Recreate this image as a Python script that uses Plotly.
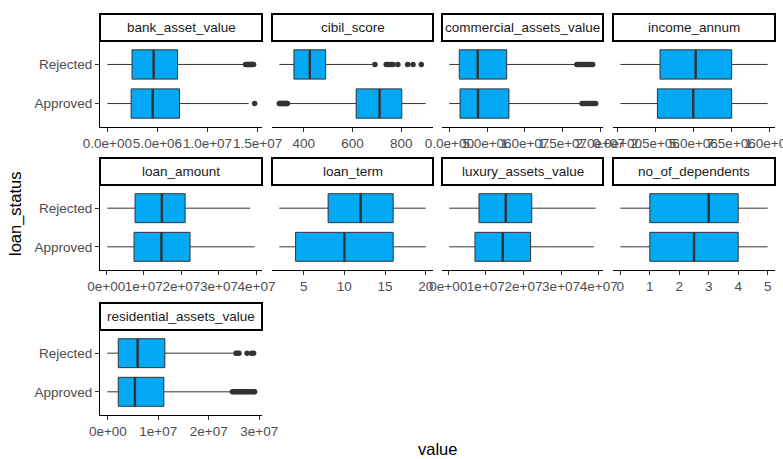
import plotly.graph_objects as go

# ---------------- data ----------------
variables = ["bank_asset_value", "cibil_score", "commercial_assets_value", "income_annum",
             "loan_amount", "loan_term", "luxury_assets_value", "no_of_dependents",
             "residential_assets_value"]
statuses = ["Approved", "Rejected"]

app_lower = [0, 336, 0, 0.2e6, 0.3e6, 2, 0.3e6, 0, -0.1e6]
app_q1 = [2.37e6, 615, 1.42e6, 2.64e6, 7.4e6, 4, 7.12e6, 1, 2.06e6]
app_median = [4.52e6, 711, 3.8e6, 5.0e6, 14.7e6, 10, 14.5e6, 2.5, 5.37e6]
app_q3 = [7.2e6, 802, 7.9e6, 7.53e6, 22.3e6, 16, 21.9e6, 4, 11.1e6]
app_upper = [14.1e6, 900, 17.4e6, 9.9e6, 39.5e6, 20, 38.7e6, 5, 24.4e6]

rej_lower = [0, 300, 0, 0.2e6, 0.3e6, 2, 0.3e6, 0, -0.1e6]
rej_q1 = [2.46e6, 360, 1.32e6, 2.81e6, 7.67e6, 8, 8.18e6, 1, 2.06e6]
rej_median = [4.62e6, 425, 3.76e6, 5.16e6, 14.8e6, 12, 15.3e6, 3, 5.9e6]
rej_q3 = [7.0e6, 490, 7.6e6, 7.53e6, 21.0e6, 16, 22.2e6, 4, 11.3e6]
rej_upper = [13.6e6, 680, 16.7e6, 9.9e6, 38.3e6, 20, 39.2e6, 5, 24.9e6]

app_outliers = [
    [14.7e6],
    [300, 303, 306, 309, 312, 315, 318, 321, 324, 327, 330, 333],
    [17.6e6, 17.8e6, 18.0e6, 18.2e6, 18.4e6, 18.6e6, 18.8e6, 19.0e6, 19.2e6, 19.4e6],
    [], [], [], [], [],
    [24.7e6, 25.0e6, 25.3e6, 25.6e6, 25.9e6, 26.2e6, 26.5e6, 26.8e6, 27.1e6, 27.4e6,
     27.7e6, 28.0e6, 28.3e6, 28.6e6, 28.9e6, 29.1e6],
]
rej_outliers = [
    [13.8e6, 13.9e6, 14.0e6, 14.1e6, 14.2e6, 14.3e6, 14.4e6, 14.5e6, 14.6e6],
    [692, 738, 748, 757, 766, 786, 826, 848, 882],
    [16.9e6, 17.1e6, 17.3e6, 17.5e6, 17.7e6, 17.9e6, 18.1e6, 18.3e6, 18.5e6, 18.7e6, 19.0e6],
    [], [], [], [], [],
    [25.4e6, 25.7e6, 26.0e6, 27.6e6, 28.5e6, 28.9e6],
]

tick_values = [
    [0, 5e6, 1e7, 1.5e7],
    [400, 600, 800],
    [0, 5e6, 1e7, 1.5e7, 2e7],
    [0, 2.5e6, 5e6, 7.5e6, 1e7],
    [0, 1e7, 2e7, 3e7, 4e7],
    [5, 10, 15, 20],
    [0, 1e7, 2e7, 3e7, 4e7],
    [0, 1, 2, 3, 4, 5],
    [0, 1e7, 2e7, 3e7],
]
tick_labels = [
    ["0.0e+00", "5.0e+06", "1.0e+07", "1.5e+07"],
    ["400", "600", "800"],
    ["0.0e+00", "5.0e+06", "1.0e+07", "1.5e+07", "2.0e+07"],
    ["0.0e+00", "2.5e+06", "5.0e+06", "7.5e+06", "1.0e+07"],
    ["0e+00", "1e+07", "2e+07", "3e+07", "4e+07"],
    ["5", "10", "15", "20"],
    ["0e+00", "1e+07", "2e+07", "3e+07", "4e+07"],
    ["0", "1", "2", "3", "4", "5"],
    ["0e+00", "1e+07", "2e+07", "3e+07"],
]

# ---------------- layout / style ----------------
W, H = 783, 459
FONT = "Liberation Sans, Arial, sans-serif"
BOX_FILL = "#03A9F4"
DARK = "#333333"
TICK_TXT = "#4D4D4D"
col_px = [(100, 262), (272, 433), (442, 603), (613, 775)]
row_px = [(41, 127), (185, 270), (330, 415)]
STRIP_H = 27


def px_x(p):
    return p / W


def px_y(p):
    return 1 - p / H


fig = go.Figure()
shapes = []
annotations = []
layout = {}

for i, var in enumerate(variables):
    n = i + 1
    r, c = divmod(i, 4)
    xa = "x" if n == 1 else f"x{n}"
    ya = "y" if n == 1 else f"y{n}"

    fig.add_trace(go.Box(
        y=statuses,
        q1=[app_q1[i], rej_q1[i]],
        median=[app_median[i], rej_median[i]],
        q3=[app_q3[i], rej_q3[i]],
        lowerfence=[app_lower[i], rej_lower[i]],
        upperfence=[app_upper[i], rej_upper[i]],
        orientation="h", fillcolor=BOX_FILL,
        line=dict(color=DARK, width=1), whiskerwidth=0, width=0.75,
        boxpoints=False, showlegend=False, hoverinfo="skip",
        xaxis=xa, yaxis=ya,
    ))
    # thicker median line (line-ns marker extends 1.4 * size/2 each side)
    fig.add_trace(go.Scatter(
        x=[app_median[i], rej_median[i]], y=statuses, mode="markers",
        marker=dict(symbol="line-ns", size=20.5, line=dict(width=2.4, color=DARK)),
        showlegend=False, hoverinfo="skip", xaxis=xa, yaxis=ya,
    ))
    # outliers
    out_x = app_outliers[i] + rej_outliers[i]
    out_y = ["Approved"] * len(app_outliers[i]) + ["Rejected"] * len(rej_outliers[i])
    if out_x:
        fig.add_trace(go.Scatter(
            x=out_x, y=out_y, mode="markers",
            marker=dict(size=5.5, color=DARK),
            showlegend=False, hoverinfo="skip", xaxis=xa, yaxis=ya,
        ))

    all_vals = [app_lower[i], rej_lower[i], app_upper[i], rej_upper[i]] + out_x
    lo, hi = min(all_vals), max(all_vals)
    pad = 0.05 * (hi - lo)

    x0, x1 = col_px[c]
    y0, y1 = row_px[r]
    layout["xaxis" if n == 1 else f"xaxis{n}"] = dict(
        domain=[px_x(x0), px_x(x1)], anchor=ya, range=[lo - pad, hi + pad],
        tickmode="array", tickvals=tick_values[i], ticktext=tick_labels[i],
        tickangle=0, automargin=False, ticklabeloverflow="allow",
        ticks="outside", ticklen=4, tickwidth=1, tickcolor=DARK,
        tickfont=dict(size=13.5, color=TICK_TXT, family=FONT),
        showline=True, linecolor="black", linewidth=1.1,
        showgrid=False, zeroline=False,
    )
    ycfg = dict(
        domain=[px_y(y1), px_y(y0)], anchor=xa, type="category",
        categoryorder="array", categoryarray=statuses, range=[-0.6, 1.6],
        showgrid=False, zeroline=False, automargin=False,
    )
    if c == 0:
        ycfg.update(showline=True, linecolor="black", linewidth=1.1,
                    ticks="outside", ticklen=4, tickwidth=1, tickcolor=DARK,
                    showticklabels=True,
                    tickfont=dict(size=13.5, color=TICK_TXT, family=FONT))
    else:
        ycfg.update(showline=False, ticks="", showticklabels=False)
    layout["yaxis" if n == 1 else f"yaxis{n}"] = ycfg

    # strip
    shapes.append(dict(type="rect", xref="paper", yref="paper",
                       x0=px_x(x0), x1=px_x(x1), y0=px_y(y0), y1=px_y(y0 - STRIP_H),
                       line=dict(color="black", width=2), fillcolor="white"))
    annotations.append(dict(xref="paper", yref="paper",
                            x=px_x((x0 + x1) / 2), y=px_y(y0 - STRIP_H / 2),
                            text=var, showarrow=False, xanchor="center", yanchor="middle",
                            font=dict(size=13.5, color="#1A1A1A", family=FONT)))

annotations.append(dict(xref="paper", yref="paper", x=px_x(437.5), y=px_y(449),
                        text="value", showarrow=False, xanchor="center", yanchor="middle",
                        font=dict(size=16.5, color="black", family=FONT)))
annotations.append(dict(xref="paper", yref="paper", x=px_x(15), y=px_y(214),
                        text="loan_status", showarrow=False, textangle=-90,
                        xanchor="center", yanchor="middle",
                        font=dict(size=16.5, color="black", family=FONT)))

fig.update_layout(
    width=W, height=H, autosize=False,
    margin=dict(l=0, r=0, t=0, b=0, autoexpand=False),
    paper_bgcolor="white", plot_bgcolor="white",
    font=dict(family=FONT),
    shapes=shapes, annotations=annotations,
    **layout,
)

fig.write_html("out.html")
